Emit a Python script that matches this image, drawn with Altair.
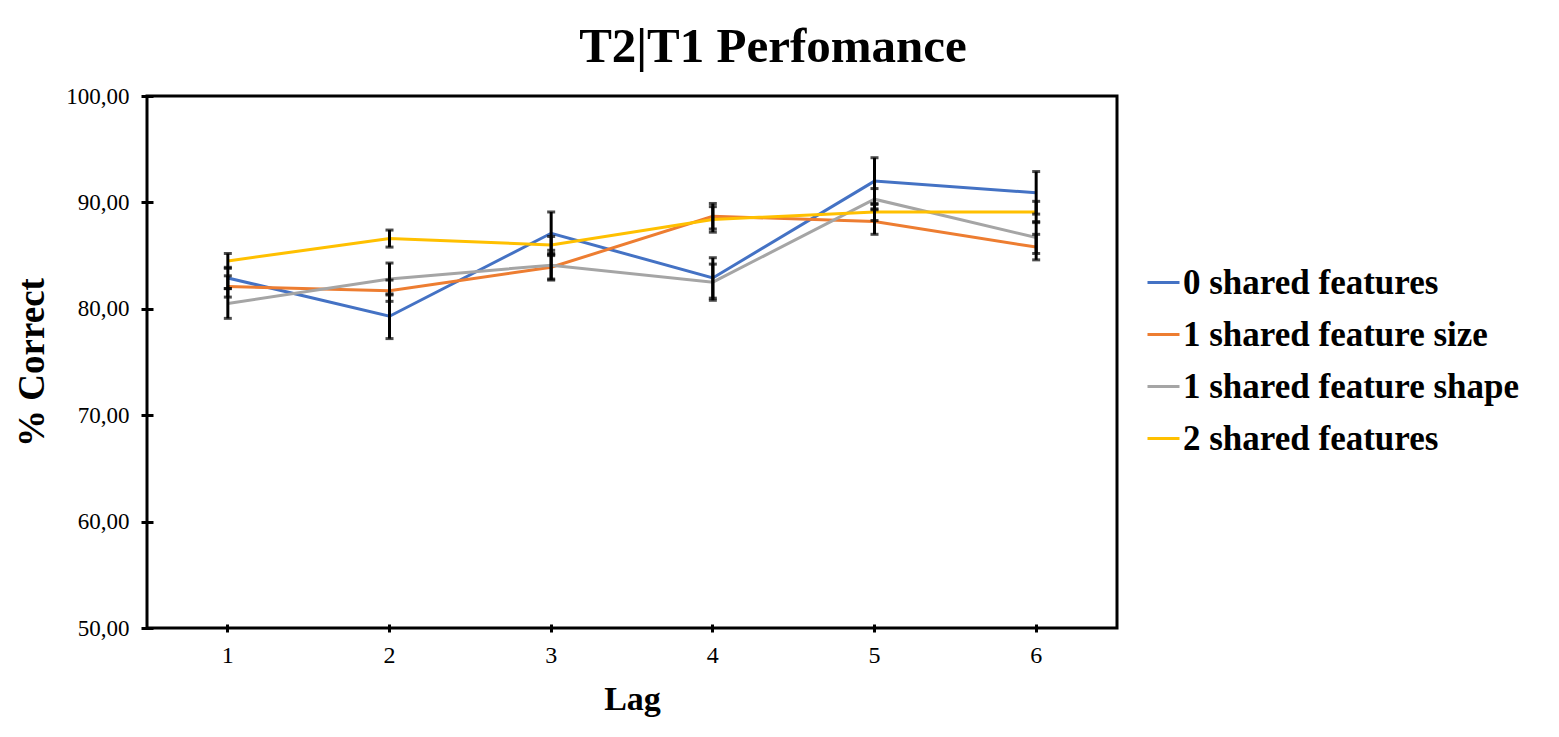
import altair as alt
import pandas as pd

title_text = ["T2|T1 Perfomance"]
lags = [1, 2, 3, 4, 5, 6]
series = ["0 shared features", "1 shared feature size", "1 shared feature shape", "2 shared features"]
colors = ["#4472C4", "#ED7D31", "#A5A5A5", "#FFC000"]

zero_shared = [82.9, 79.3, 87.1, 82.9, 92.0, 90.9]
one_size = [82.1, 81.7, 83.9, 88.7, 88.2, 85.8]
one_shape = [80.5, 82.8, 84.1, 82.5, 90.3, 86.7]
two_shared = [84.5, 86.6, 86.0, 88.4, 89.1, 89.1]

zero_err = [1.0, 2.1, 2.0, 1.9, 2.2, 2.0]
size_err = [1.0, 1.0, 1.1, 1.2, 1.2, 1.2]
shape_err = [1.4, 1.5, 1.4, 1.7, 1.0, 1.5]
two_err = [0.7, 0.8, 0.8, 1.2, 0.8, 1.0]

rows = []
for name, vals, errs in zip(series,
                            [zero_shared, one_size, one_shape, two_shared],
                            [zero_err, size_err, shape_err, two_err]):
    for lag, v, e in zip(lags, vals, errs):
        rows.append({"Lag": lag, "series": name, "value": v,
                     "lo": v - e, "hi": v + e})
df = pd.DataFrame(rows)

FONT = "Liberation Serif"

x_enc = alt.X("Lag:O", title="Lag",
              axis=alt.Axis(labelAngle=0, domain=False, offset=-4, tickSize=8,
                            tickWidth=3, tickColor="black", labelFontSize=24,
                            labelFont=FONT, labelColor="black", labelPadding=11,
                            titleFont=FONT, titleFontSize=34, titleFontWeight="bold",
                            titleColor="black", titlePadding=15))
y_scale = alt.Scale(domain=[50, 100])

base = alt.Chart(df)

lines = base.mark_line(strokeWidth=3).encode(
    x=x_enc,
    y=alt.Y("value:Q", scale=y_scale, title="% Correct",
            axis=alt.Axis(values=[50, 60, 70, 80, 90, 100], domain=False, offset=-6,
                          tickSize=12, tickWidth=3, tickColor="black", grid=False,
                          labelExpr="replace(format(datum.value, '.2f'), '.', ',')",
                          labelFontSize=23, labelFont=FONT, labelColor="black",
                          labelPadding=12, titleFont=FONT, titleFontSize=37,
                          titleFontWeight="bold", titleColor="black", titlePadding=14)),
    color=alt.Color("series:N", scale=alt.Scale(domain=series, range=colors),
                    sort=series,
                    legend=alt.Legend(title=None, orient="none", legendX=999, legendY=169,
                                      symbolType="stroke", symbolSize=1024,
                                      symbolStrokeWidth=3, labelFont=FONT,
                                      labelFontSize=35, labelFontWeight="bold",
                                      labelColor="black", rowPadding=16, labelOffset=2,
                                      labelLimit=500)),
    detail="series:N",
)

rules = base.mark_rule(color="black", strokeWidth=3).encode(
    x="Lag:O", y=alt.Y("lo:Q", scale=y_scale), y2="hi:Q")
caps_lo = base.mark_tick(color="black", size=8, thickness=3).encode(
    x="Lag:O", y=alt.Y("lo:Q", scale=y_scale))
caps_hi = base.mark_tick(color="black", size=8, thickness=3).encode(
    x="Lag:O", y=alt.Y("hi:Q", scale=y_scale))

title = alt.Chart(pd.DataFrame({"t": title_text})).mark_text(
    font=FONT, fontSize=49, fontWeight="bold", color="black",
    align="center", baseline="alphabetic").encode(
    text="t:N", x=alt.value(626), y=alt.value(-34))

chart = alt.layer(lines, rules, caps_lo, caps_hi, title).properties(
    width=970, height=532,
    autosize=alt.AutoSizeParams(type="none"),
    padding={"left": 139, "top": 88, "right": 420, "bottom": 95},
).configure(background="white").configure_view(stroke="black", strokeWidth=3)

chart.save("out.html", embed_options={"renderer": "svg", "actions": False})
